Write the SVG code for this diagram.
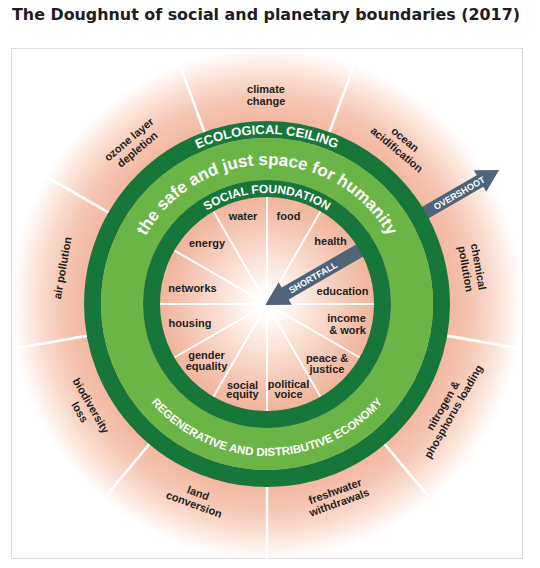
<svg xmlns="http://www.w3.org/2000/svg" width="540" height="568" viewBox="0 0 540 568">
<style>
.title{font-family:"DejaVu Sans","Liberation Sans",sans-serif;font-weight:bold;font-size:16px;fill:#1d1d24}
.lbl{font-family:"Liberation Sans",Arial,sans-serif;font-weight:bold;font-size:11px;fill:#231f20;text-anchor:middle}
.ring{font-family:"Liberation Sans",Arial,sans-serif;fill:#ffffff;text-anchor:middle}
.arrowtxt{font-family:"Liberation Sans",Arial,sans-serif;font-weight:bold;font-size:9px;fill:#ffffff;text-anchor:middle}
.oline{stroke:#ffffff;stroke-width:2.6;fill:none}
.iline{stroke:#ffffff;stroke-width:2;fill:none}
.arrow{fill:#4e6579}
</style>
<defs>
<radialGradient id="outerGrad" gradientUnits="userSpaceOnUse" cx="267" cy="304" r="256">
<stop offset="0.70" stop-color="#f3b69d"/>
<stop offset="0.80" stop-color="#f5c5b1"/>
<stop offset="0.88" stop-color="#f9dacd"/>
<stop offset="0.95" stop-color="#fdf1eb"/>
<stop offset="1" stop-color="#ffffff"/>
</radialGradient>
<radialGradient id="innerGrad" gradientUnits="userSpaceOnUse" cx="267" cy="304" r="107">
<stop offset="0" stop-color="#ffffff"/>
<stop offset="0.15" stop-color="#fffaf7"/>
<stop offset="0.5" stop-color="#f9dbce"/>
<stop offset="0.85" stop-color="#f3bea8"/>
<stop offset="1" stop-color="#f1b49b"/>
</radialGradient>
<path id="ecoPath" d="M97,304 A170,170 0 0 1 437,304"/>
<path id="safePath" d="M128,304 A139,139 0 0 1 406,304"/>
<path id="socialPath" d="M156,304 A111,111 0 0 1 378,304"/>
<path id="regenPath" d="M115,304 A152,152 0 0 0 419,304"/>
</defs>

<rect width="540" height="568" fill="#ffffff"/>
<text class="title" x="12" y="20" textLength="508" lengthAdjust="spacingAndGlyphs">The Doughnut of social and planetary boundaries (2017)</text>

<g id="frame">
<rect x="11.5" y="48.5" width="511" height="510" fill="url(#outerGrad)" stroke="#dcdcdc" stroke-width="1"/>
</g>

<g id="boundary-lines" transform="translate(267 304)">
<line class="oline" x1="0" y1="-182" x2="0" y2="-256" transform="rotate(20)"/>
<line class="oline" x1="0" y1="-182" x2="0" y2="-256" transform="rotate(60)"/>
<line class="oline" x1="0" y1="-182" x2="0" y2="-256" transform="rotate(100)"/>
<line class="oline" x1="0" y1="-182" x2="0" y2="-256" transform="rotate(140)"/>
<line class="oline" x1="0" y1="-182" x2="0" y2="-256" transform="rotate(180)"/>
<line class="oline" x1="0" y1="-182" x2="0" y2="-256" transform="rotate(220)"/>
<line class="oline" x1="0" y1="-182" x2="0" y2="-256" transform="rotate(260)"/>
<line class="oline" x1="0" y1="-182" x2="0" y2="-256" transform="rotate(300)"/>
<line class="oline" x1="0" y1="-182" x2="0" y2="-256" transform="rotate(340)"/>
</g>

<g id="inner-disc">
<circle cx="267" cy="304" r="120" fill="url(#innerGrad)"/>
</g>

<g id="sector-lines" transform="translate(267 304)">
<line class="iline" x1="0" y1="0" x2="0" y2="-110"/>
<line class="iline" x1="0" y1="0" x2="0" y2="-110" transform="rotate(30)"/>
<line class="iline" x1="0" y1="0" x2="0" y2="-110" transform="rotate(60)"/>
<line class="iline" x1="0" y1="0" x2="0" y2="-110" transform="rotate(90)"/>
<line class="iline" x1="0" y1="0" x2="0" y2="-110" transform="rotate(120)"/>
<line class="iline" x1="0" y1="0" x2="0" y2="-110" transform="rotate(150)"/>
<line class="iline" x1="0" y1="0" x2="0" y2="-110" transform="rotate(180)"/>
<line class="iline" x1="0" y1="0" x2="0" y2="-110" transform="rotate(210)"/>
<line class="iline" x1="0" y1="0" x2="0" y2="-110" transform="rotate(240)"/>
<line class="iline" x1="0" y1="0" x2="0" y2="-110" transform="rotate(270)"/>
<line class="iline" x1="0" y1="0" x2="0" y2="-110" transform="rotate(300)"/>
<line class="iline" x1="0" y1="0" x2="0" y2="-110" transform="rotate(330)"/>
</g>

<g id="arrows" transform="translate(267 304) rotate(-30)">
<g id="overshoot">
<polygon class="arrow" points="178,-6.5 246,-6.5 246,-12.5 268,0 246,12.5 246,6.5 178,6.5"/>
<text class="arrowtxt" x="222" y="3.3">OVERSHOOT</text>
</g>
<g id="shortfall">
<polygon class="arrow" points="-2,0 21,-13 21,-7 113,-7 113,7 21,7 21,13"/>
<text class="arrowtxt" x="53" y="3.3">SHORTFALL</text>
</g>
</g>

<g id="rings">
<circle cx="267" cy="304" r="174.5" fill="none" stroke="#17773b" stroke-width="17"/>
<circle cx="267" cy="304" r="145" fill="none" stroke="#6bb446" stroke-width="42"/>
<circle cx="267" cy="304" r="115.5" fill="none" stroke="#17773b" stroke-width="17"/>
</g>

<g id="ecological-ceiling">
<text class="ring" font-size="13" font-weight="bold"><textPath href="#ecoPath" startOffset="50%">ECOLOGICAL CEILING</textPath></text>
</g>
<g id="safe-space">
<text class="ring" font-size="17" font-weight="bold"><textPath href="#safePath" startOffset="50%">the safe and just space for humanity</textPath></text>
</g>
<g id="social-foundation">
<text class="ring" font-size="12" font-weight="bold"><textPath href="#socialPath" startOffset="50%">SOCIAL FOUNDATION</textPath></text>
</g>
<g id="regenerative-economy">
<text class="ring" font-size="11.5" font-weight="bold"><textPath href="#regenPath" startOffset="50%">REGENERATIVE AND DISTRIBUTIVE ECONOMY</textPath></text>
</g>

<g id="social-labels">
<g id="water"><text class="lbl" x="243" y="220">water</text></g>
<g id="food"><text class="lbl" x="288.5" y="220">food</text></g>
<g id="energy"><text class="lbl" x="207" y="247">energy</text></g>
<g id="health"><text class="lbl" x="330.5" y="245">health</text></g>
<g id="networks"><text class="lbl" x="192.5" y="292">networks</text></g>
<g id="education"><text class="lbl" x="342.5" y="295">education</text></g>
<g id="housing"><text class="lbl" x="190" y="327">housing</text></g>
<g id="income-work"><text class="lbl" x="346.5" y="322">income</text><text class="lbl" x="347.5" y="333.5">&amp; work</text></g>
<g id="gender-equality"><text class="lbl" x="206.5" y="359">gender</text><text class="lbl" x="206.5" y="370">equality</text></g>
<g id="peace-justice"><text class="lbl" x="327" y="362">peace &amp;</text><text class="lbl" x="327" y="373">justice</text></g>
<g id="social-equity"><text class="lbl" x="242.5" y="389">social</text><text class="lbl" x="242.5" y="398">equity</text></g>
<g id="political-voice"><text class="lbl" x="288.5" y="388">political</text><text class="lbl" x="288.5" y="398">voice</text></g>
</g>

<g id="planetary-labels">
<g id="climate-change"><text class="lbl" x="266" y="93">climate</text><text class="lbl" x="266" y="105">change</text></g>
<g id="ocean-acidification" transform="rotate(40 267 304)"><text class="lbl" x="267" y="93">ocean</text><text class="lbl" x="267" y="106">acidification</text></g>
<g id="chemical-pollution" transform="rotate(80 267 304)"><text class="lbl" x="267" y="93">chemical</text><text class="lbl" x="267" y="106">pollution</text></g>
<g id="nitrogen-phosphorus" transform="rotate(-60 267 304)"><text class="lbl" x="267" y="511">nitrogen &amp;</text><text class="lbl" x="267" y="523">phosphorus loading</text></g>
<g id="freshwater-withdrawals" transform="rotate(-20 267 304)"><text class="lbl" x="267" y="507">freshwater</text><text class="lbl" x="267" y="519">withdrawals</text></g>
<g id="land-conversion" transform="rotate(20 267 304)"><text class="lbl" x="267" y="509">land</text><text class="lbl" x="267" y="521">conversion</text></g>
<g id="biodiversity-loss" transform="rotate(60 267 304)"><text class="lbl" x="267" y="511">biodiversity</text><text class="lbl" x="267" y="524">loss</text></g>
<g id="air-pollution" transform="rotate(-80 267 304)"><text class="lbl" x="267" y="100">air pollution</text></g>
<g id="ozone-depletion" transform="rotate(-40 267 304)"><text class="lbl" x="267" y="93">ozone layer</text><text class="lbl" x="267" y="106">depletion</text></g>
</g>
</svg>
